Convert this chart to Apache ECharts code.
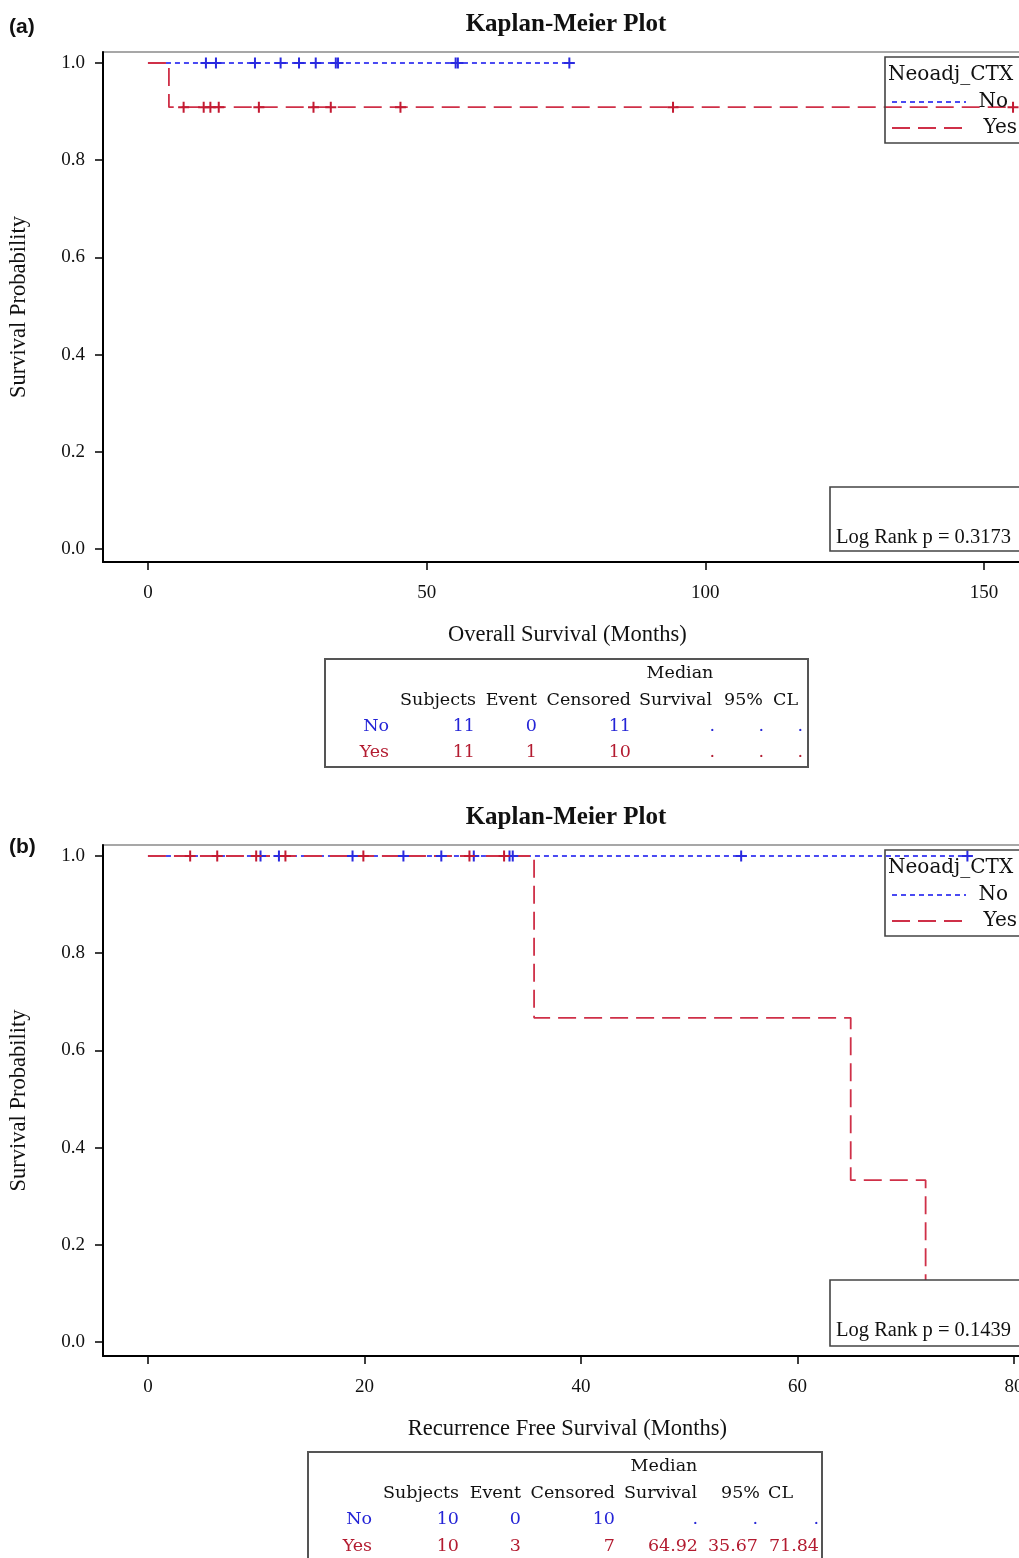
<!DOCTYPE html>
<html><head><meta charset="utf-8">
<script src="https://cdn.jsdelivr.net/npm/echarts@6/dist/echarts.min.js"></script>
<style>html,body{margin:0;padding:0;background:#fff;overflow:hidden;}#c{width:1060px;height:1558px;}</style>
</head><body><div id="c"></div>
<script>
// ---------- DATA ----------
// Panel (a) Overall Survival
const osNoEventTimes = [];
const osNoSurv = [];
const osNoCensor = [10.4, 12.2, 19.2, 23.8, 27.1, 30.1, 33.7, 34.1, 55.2, 55.6, 75.6];
const osYesEventTimes = [3.76];
const osYesSurv = [0.909];
const osYesCensor = [6.4, 10.0, 11.2, 12.7, 19.9, 29.7, 32.8, 45.3, 94.2, 155.2];
// Panel (b) Recurrence Free Survival
const rfsNoEventTimes = [];
const rfsNoSurv = [];
const rfsNoCensor = [10.4, 12.1, 18.9, 23.6, 27.1, 30.1, 33.4, 33.7, 54.8, 75.7];
const rfsYesEventTimes = [35.67, 64.92, 71.84];
const rfsYesSurv = [0.667, 0.333, 0.0];
const rfsYesCensor = [3.9, 6.4, 10.0, 12.7, 19.9, 29.7, 32.9];

const xTicksA = [0, 50, 100, 150];
const xTicksB = [0, 20, 40, 60, 80];
const yTicks = [0, 0.2, 0.4, 0.6, 0.8, 1.0];

const groups = ['No', 'Yes'];
const tableAHeader = ['Subjects', 'Event', 'Censored', 'Survival', '95%', 'CL'];
const tableASubjects = ['11', '11'];
const tableAEvent = ['0', '1'];
const tableACensored = ['11', '10'];
const tableAMedian = ['.', '.'];
const tableALcl = ['.', '.'];
const tableAUcl = ['.', '.'];
const tableBSubjects = ['10', '10'];
const tableBEvent = ['0', '3'];
const tableBCensored = ['10', '7'];
const tableBMedian = ['.', '64.92'];
const tableBLcl = ['.', '35.67'];
const tableBUcl = ['.', '71.84'];
const pValueA = '0.3173';
const pValueB = '0.1439';

// ---------- helpers ----------
const BLUE_LINE = '#4a4af2', RED_LINE = '#cf3048';
const BLUE_MARK = '#2a2ae0', RED_MARK = '#c41a32';
const BLUE_TXT = '#2424d6', RED_TXT = '#b31b30';
const PLUS = 'path://M4.5,0H6.5V4.5H11V6.5H6.5V11H4.5V6.5H0V4.5H4.5Z';

function stepData(times, surv, censor) {
  const pts = [[0, 1]];
  times.forEach((t, i) => pts.push([t, surv[i]]));
  const lastT = Math.max(times.length ? times[times.length - 1] : 0, censor.length ? Math.max(...censor) : 0);
  const lastS = pts[pts.length - 1][1];
  if (lastT > pts[pts.length - 1][0]) pts.push([lastT, lastS]);
  return pts;
}
function survAt(times, surv, t) {
  let s = 1;
  times.forEach((et, i) => { if (et <= t) s = surv[i]; });
  return s;
}
function censorData(times, surv, censor) {
  return censor.map(t => [t, survAt(times, surv, t)]);
}

const serif = 'Liberation Serif';
const tableFont = 'DejaVu Serif';

function xAxisCfg(grid, min, max, ticks, name) {
  return {
    type: 'value', gridIndex: grid, min: min, max: max,
    name: name, nameLocation: 'middle', nameGap: 62,
    nameTextStyle: {fontFamily: serif, fontSize: 22.5, color: '#111'},
    axisLine: {show: true, onZero: false, lineStyle: {color: '#000', width: 2}},
    axisTick: {show: true, length: 8, lineStyle: {color: '#000', width: 1.5}, customValues: ticks},
    axisLabel: {fontFamily: serif, fontSize: 19, color: '#111', margin: 22, customValues: ticks},
    splitLine: {show: false}
  };
}
function yAxisCfg(grid, min, max) {
  return {
    type: 'value', gridIndex: grid, min: min, max: max,
    name: 'Survival Probability', nameLocation: 'middle', nameGap: 72,
    nameTextStyle: {fontFamily: serif, fontSize: 22.5, color: '#111'},
    axisLine: {show: true, onZero: false, lineStyle: {color: '#000', width: 2}},
    axisTick: {show: true, length: 8, lineStyle: {color: '#000', width: 1.5}, customValues: yTicks},
    axisLabel: {fontFamily: serif, fontSize: 19, color: '#111', margin: 18, customValues: yTicks,
      formatter: v => Number(v).toFixed(1)},
    splitLine: {show: false}
  };
}
function kmSeries(idx, times, surv, censor, isYes) {
  return [{
    type: 'line', xAxisIndex: idx, yAxisIndex: idx, step: 'end', symbol: 'none',
    data: stepData(times, surv, censor), z: isYes ? 4 : 3,
    lineStyle: isYes ? {color: RED_LINE, width: 1.8, type: [18, 8]} : {color: BLUE_LINE, width: 1.8, type: [5, 4]},
    silent: true, animation: false
  }, {
    type: 'scatter', xAxisIndex: idx, yAxisIndex: idx, symbol: PLUS, symbolSize: 11,
    data: censorData(times, surv, censor), z: isYes ? 6 : 5,
    itemStyle: {color: isYes ? RED_MARK : BLUE_MARK, opacity: 1},
    silent: true, animation: false
  }];
}

// ---------- graphics ----------
const G = [];
function txt(x, y, s, opt) {
  G.push(Object.assign({type: 'text', x: x, y: y, z: 100,
    style: Object.assign({text: s, fill: '#111', font: '16px "' + tableFont + '"', textAlign: 'left', textVerticalAlign: 'middle'}, opt || {})}));
}
function rect(x, y, w, h, fill, stroke, lw) {
  G.push({type: 'rect', z: 99, shape: {x: x, y: y, width: w, height: h},
    style: {fill: fill, stroke: stroke, lineWidth: lw}});
}
function seg(x1, y1, x2, y2, color, dash) {
  G.push({type: 'line', z: 100, shape: {x1: x1, y1: y1, x2: x2, y2: y2},
    style: {stroke: color, lineWidth: 1.8, lineDash: dash}});
}

// titles & panel labels
txt(566, 25, 'Kaplan-Meier Plot', {font: 'bold 25px "' + serif + '"', textAlign: 'center'});
txt(566, 818, 'Kaplan-Meier Plot', {font: 'bold 25px "' + serif + '"', textAlign: 'center'});
txt(9, 27, '(a)', {font: 'bold 21px "Liberation Sans"'});
txt(9, 847, '(b)', {font: 'bold 21px "Liberation Sans"'});

// legends
function legend(top) {
  const lf = '20px "' + tableFont + '"';
  rect(885, top, 170, 86, 'rgba(0,0,0,0)', '#444', 1.6);
  txt(888, top + 18, 'Neoadj_CTX', {font: lf});
  seg(892, top + 45, 966, top + 45, BLUE_LINE, [5, 4]);
  txt(1008, top + 45, groups[0], {font: lf, textAlign: 'right'});
  seg(892, top + 71, 966, top + 71, RED_LINE, [18, 8]);
  txt(1017, top + 71, groups[1], {font: lf, textAlign: 'right'});
}
legend(57);
legend(850);

// log rank boxes
rect(830, 487, 230, 64, '#fff', '#444', 1.6);
txt(836, 538, 'Log Rank p = ' + pValueA, {font: '20.5px "' + serif + '"'});
rect(830, 1280, 230, 66, '#fff', '#444', 1.6);
txt(836, 1331, 'Log Rank p = ' + pValueB, {font: '20.5px "' + serif + '"'});

// tables
function table(bx, by, bw, bh, cols, rowsY, vals) {
  rect(bx, by, bw, bh, 'rgba(0,0,0,0)', '#555', 2);
  const f = '17.5px "' + tableFont + '"';
  txt(cols.medianHdr, rowsY[0], 'Median', {font: f, textAlign: 'center'});
  tableAHeader.forEach((h, i) => txt(cols.hdr[i], rowsY[1], h, {font: f, textAlign: 'right'}));
  groups.forEach((g, r) => {
    const col = r === 0 ? BLUE_TXT : RED_TXT;
    const y = rowsY[2 + r];
    txt(cols.label, y, g, {font: f, textAlign: 'right', fill: col});
    vals.forEach((arr, k) => txt(cols.data[k], y, arr[r], {font: f, textAlign: 'right', fill: col}));
  });
}
table(325, 659, 483, 108,
  {medianHdr: 680, hdr: [476, 537, 631, 712, 763, 798], label: 389, data: [475, 537, 631, 715, 764, 803]},
  [673, 700, 726, 752],
  [tableASubjects, tableAEvent, tableACensored, tableAMedian, tableALcl, tableAUcl]);
table(308, 1452, 514, 130,
  {medianHdr: 664, hdr: [459, 521, 615, 697, 760, 793], label: 372, data: [459, 521, 615, 698, 758, 819]},
  [1466, 1493, 1519, 1546],
  [tableBSubjects, tableBEvent, tableBCensored, tableBMedian, tableBLcl, tableBUcl]);

// ---------- chart ----------
const chart = echarts.init(document.getElementById('c'), null, {renderer: 'canvas'});
chart.setOption({
  animation: false,
  backgroundColor: '#fff',
  grid: [
    {left: 102, top: 52, width: 929.6, height: 510, show: true, borderColor: '#8a8a8a', borderWidth: 1.5, backgroundColor: 'transparent'},
    {left: 102, top: 845, width: 929.6, height: 511, show: true, borderColor: '#8a8a8a', borderWidth: 1.5, backgroundColor: 'transparent'}
  ],
  xAxis: [
    xAxisCfg(0, -8.065, 158.53, xTicksA, 'Overall Survival (Months)'),
    xAxisCfg(1, -4.152, 81.63, xTicksB, 'Recurrence Free Survival (Months)')
  ],
  yAxis: [yAxisCfg(0, -0.0267, 1.0226), yAxisCfg(1, -0.0288, 1.0226)],
  series: [].concat(
    kmSeries(0, osNoEventTimes, osNoSurv, osNoCensor, false),
    kmSeries(0, osYesEventTimes, osYesSurv, osYesCensor, true),
    kmSeries(1, rfsNoEventTimes, rfsNoSurv, rfsNoCensor, false),
    kmSeries(1, rfsYesEventTimes, rfsYesSurv, rfsYesCensor, true)
  ),
  graphic: G
});
</script></body></html>
